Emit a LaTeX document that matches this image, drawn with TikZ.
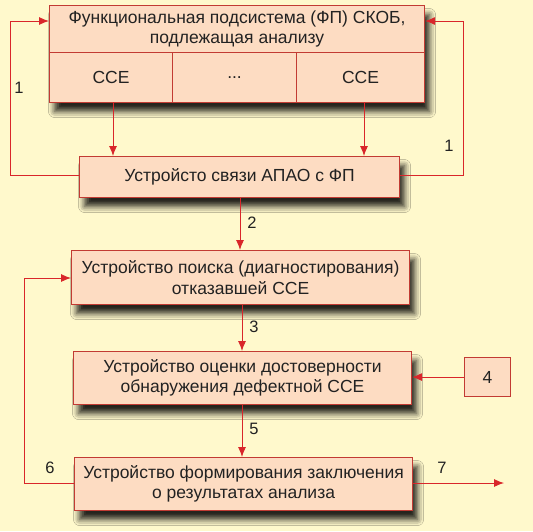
\documentclass[tikz,border=0pt]{standalone}
\usepackage{fontspec}
\setmainfont{Liberation Sans}
\usetikzlibrary{arrows.meta,shadows.blur,calc}
\definecolor{bg}{HTML}{FFF9CC}
\definecolor{boxfill}{HTML}{FDDCC2}
\definecolor{boxline}{HTML}{C23B33}
\definecolor{arr}{HTML}{D9262A}
\definecolor{txt}{HTML}{222222}
\tikzset{
  box/.style={draw=boxline, line width=1.1pt, fill=boxfill, anchor=north west,
    inner sep=0pt, align=center, text=txt, font=\fontsize{17.5}{20.5}\selectfont},
  shad/.style={blur shadow={shadow xshift=5pt, shadow yshift=-9pt, shadow blur radius=6pt, shadow opacity=85}},
  con/.style={draw=arr, line width=0.9pt, -{Latex[length=10pt,width=8pt]}},
  lbl/.style={text=txt, font=\fontsize{16.5}{18}\selectfont, inner sep=0pt}
}
\begin{document}
\begin{tikzpicture}[x=1pt,y=-1pt]
\fill[bg] (0,0) rectangle (533,531);
\useasboundingbox (0,0) rectangle (533,531);
% top subsystem box
\node[box, shad, minimum width=375pt, minimum height=97pt] (fp) at (49,5) {};
\node[box, draw=none, fill=none, minimum width=375pt, minimum height=47pt] (fphead) at (49,5)
  {Функциональная подсистема (ФП) СКОБ,\\подлежащая анализу};
\node[box, minimum width=123pt, minimum height=50pt] (c1) at (49,52) {ССЕ};
\node[box, minimum width=124pt, minimum height=50pt] (c2) at (172,52) {...};
\node[box, minimum width=128pt, minimum height=50pt] (c3) at (296,52) {ССЕ};
% other boxes
\node[box, shad, minimum width=320pt, minimum height=41pt] (link) at (79,156) {Устройсто связи АПАО с ФП};
\node[box, shad, minimum width=338pt, minimum height=54pt] (search) at (71,250) {Устройство поиска (диагностирования)\\отказавшей ССЕ};
\node[box, shad, minimum width=338pt, minimum height=53pt] (eval) at (73,351) {Устройство оценки достоверности\\обнаружения дефектной ССЕ};
\node[box, shad, minimum width=338pt, minimum height=53pt] (concl) at (74,457) {Устройство формирования заключения\\о результатах анализа};
\node[box, minimum width=46pt, minimum height=39pt] (four) at (464,357) {4};
% coordinates
\coordinate (a1) at (113,102);
\coordinate (a1e) at (113,156);
\coordinate (a3) at (364,102);
\coordinate (a3e) at (364,156);
\coordinate (l1) at (10,175);
\coordinate (l1t) at (10,21);
\coordinate (r1) at (463,175);
\coordinate (r1t) at (463,21);
\coordinate (l6) at (24,483);
\coordinate (l6t) at (24,278);
\coordinate (out7) at (504,483);
% connectors
\draw[con] (a1) -- (a1e);
\draw[con] (a3) -- (a3e);
\draw[con] (link.west |- l1) -- (l1) -- (l1t) -- (fp.west |- l1t);
\draw[con] (link.east |- r1) -- (r1) -- (r1t) -- (fp.east |- r1t);
\draw[con] (link.south -| 240,0) -- (search.north -| 240,0);
\draw[con] (search.south -| 242,0) -- (eval.north -| 242,0);
\draw[con] (eval.south -| 242,0) -- (concl.north -| 242,0);
\draw[con] (four.west) -- (four.west -| eval.east);
\draw[con] (concl.west |- l6) -- (l6) -- (l6t) -- (search.west |- l6t);
\draw[con] (concl.east |- out7) -- (out7);
% labels
\node[lbl] at (19,88) {1};
\node[lbl] at (449,146) {1};
\node[lbl] at (252,223) {2};
\node[lbl] at (254,327) {3};
\node[lbl] at (254,429) {5};
\node[lbl] at (50,468) {6};
\node[lbl] at (442,468) {7};
\end{tikzpicture}
\end{document}
